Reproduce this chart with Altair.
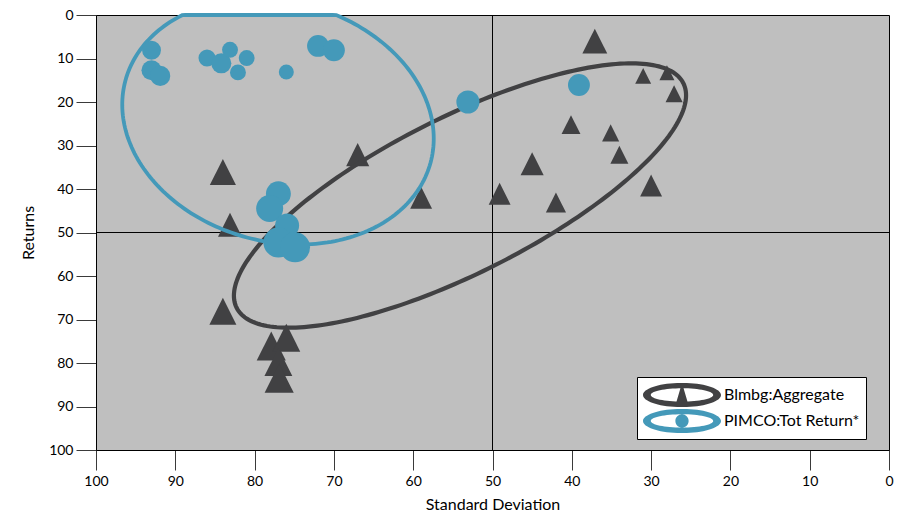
import altair as alt
import numpy as np
import pandas as pd

SERIES = ["Blmbg:Aggregate", "PIMCO:Tot Return*"]
COLORS = ["#414143", "#4499b9"]

# Blmbg:Aggregate (triangles)
agg_sd = [37.1, 31.0, 28.0, 27.1, 40.1, 35.1, 34.0, 30.0, 45.0, 49.1,
          42.0, 59.0, 67.0, 84.0, 83.1, 84.0, 77.9, 76.0, 77.0, 76.9]
agg_ret = [6.0, 14.0, 13.3, 18.1, 25.2, 27.1, 32.1, 39.2, 34.2, 41.1,
           43.1, 42.0, 32.1, 36.1, 48.2, 68.1, 76.1, 74.2, 79.8, 83.5]
agg_wt = [8.3, 5.3, 5.0, 5.7, 6.3, 5.7, 6.0, 7.3, 7.7, 7.3,
          6.7, 7.3, 7.7, 8.7, 8.0, 9.0, 9.7, 9.3, 9.3, 9.7]

# PIMCO:Tot Return* (circles)
tot_sd = [93.0, 93.0, 91.9, 86.0, 84.2, 83.1, 81.0, 82.1, 76.0, 72.0,
          70.0, 53.1, 39.1, 77.0, 78.1, 75.9, 77.0, 74.9]
tot_ret = [8.1, 12.7, 14.0, 9.9, 11.1, 8.0, 9.9, 13.2, 13.1, 7.1,
           8.1, 20.0, 16.1, 41.1, 44.5, 48.4, 52.3, 53.4]
tot_wt = [6.3, 6.7, 6.7, 5.7, 6.7, 5.3, 5.3, 5.3, 5.0, 7.3,
          7.3, 7.7, 7.3, 8.3, 9.0, 8.0, 10.0, 10.0]

# ellipse outlines: centre (sd, return), semi-axes in px, screen rotation in degrees
agg_ellipse = dict(cx=54.1, cy=41.5, a=250, b=78, ang=-26.7)
tot_ellipse = dict(cx=77.05, cy=24.5, a=158, b=120, ang=15)

W, H = 793, 435
FONT = "Lato"

def ellipse_df(p):
    t = np.linspace(0, 2 * np.pi, 241)
    th = np.radians(p["ang"])
    dx = p["a"] * np.cos(t) * np.cos(th) - p["b"] * np.sin(t) * np.sin(th)
    dy = p["a"] * np.cos(t) * np.sin(th) + p["b"] * np.sin(t) * np.cos(th)
    return pd.DataFrame({"sd": p["cx"] - dx / (W / 100.0),
                         "ret": p["cy"] + dy / (H / 100.0),
                         "i": np.arange(len(t))})

agg = pd.DataFrame({"sd": agg_sd, "ret": agg_ret, "wt": agg_wt, "series": SERIES[0]})
tot = pd.DataFrame({"sd": tot_sd, "ret": tot_ret, "wt": tot_wt, "series": SERIES[1]})
both = pd.concat([agg, tot], ignore_index=True)
rule = pd.DataFrame({"v": [50]})

xscale = alt.Scale(domain=[0, 100], reverse=True, nice=False, zero=False)
yscale = alt.Scale(domain=[0, 100], reverse=True, nice=False, zero=False, clamp=True)
common_axis = dict(tickSize=20, tickColor="#3a3a3a", tickWidth=1, domainColor="black",
                   domainWidth=1, grid=False, labelFont=FONT, labelFontSize=14,
                   labelColor="black", titleFont=FONT, titleFontSize=16,
                   titleFontWeight="normal", titleColor="black", labelFlush=False,
                   labelOverlap=False, values=list(range(0, 101, 10)))
xaxis = alt.Axis(labelPadding=4, titlePadding=8, **common_axis)
yaxis = alt.Axis(labelPadding=3, titlePadding=12, **common_axis)

def X(f):
    return alt.X(f"{f}:Q", scale=xscale, axis=xaxis, title="Standard Deviation")

def Y(f):
    return alt.Y(f"{f}:Q", scale=yscale, axis=yaxis, title="Returns")

size_scale = alt.Scale(type="pow", exponent=2, domain=[0, 10], range=[0, 900])

vrule = alt.Chart(rule).mark_rule(color="black", strokeWidth=1).encode(x=X("v"))
hrule = alt.Chart(rule).mark_rule(color="black", strokeWidth=1).encode(y=Y("v"))

tri = alt.Chart(agg).mark_point(shape="M0,-1L1,1L-1,1Z", filled=True, opacity=1,
                                color=COLORS[0], strokeWidth=0).encode(
    x=X("sd"), y=Y("ret"), size=alt.Size("wt:Q", scale=size_scale, legend=None))

circ = alt.Chart(tot).mark_point(shape="circle", filled=True, opacity=1,
                                 color=COLORS[1], strokeWidth=0).encode(
    x=X("sd"), y=Y("ret"), size=alt.Size("wt:Q", scale=size_scale, legend=None))

e_agg = alt.Chart(ellipse_df(agg_ellipse)).mark_line(color=COLORS[0], strokeWidth=4.2).encode(
    x=X("sd"), y=Y("ret"), order="i:Q")
e_tot = alt.Chart(ellipse_df(tot_ellipse)).mark_line(color=COLORS[1], strokeWidth=3.8).encode(
    x=X("sd"), y=Y("ret"), order="i:Q")

ring = ("M-1,0A1,0.31 0 1,0 1,0A1,0.31 0 1,0 -1,0Z"
        "M-0.8,0A0.8,0.17 0 1,1 0.8,0A0.8,0.17 0 1,1 -0.8,0Z")
path_agg = ring + "M0,-0.31L-0.17,0.27L0.17,0.27Z"
path_tot = ring + "M-0.17,0A0.17,0.17 0 1,0 0.17,0A0.17,0.17 0 1,0 -0.17,0Z"

leg = alt.Legend(orient="none", legendX=541, legendY=362, title=None,
                 fillColor="white", strokeColor="black", padding=6,
                 symbolSize=6084, symbolStrokeWidth=0, symbolOpacity=1,
                 labelFont=FONT, labelFontSize=16, labelColor="black",
                 labelOffset=3, clipHeight=24, rowPadding=2)

key = alt.Chart(both).mark_point(filled=True, opacity=0).encode(
    x=X("sd"), y=Y("ret"),
    shape=alt.Shape("series:N", scale=alt.Scale(domain=SERIES, range=[path_agg, path_tot]), legend=leg),
    color=alt.Color("series:N", scale=alt.Scale(domain=SERIES, range=COLORS), legend=leg))

chart = alt.layer(vrule, hrule, tri, e_agg, e_tot, circ, key).properties(
    width=W, height=H,
    autosize=alt.AutoSizeParams(type="none"),
    padding={"left": 88, "top": 7, "right": 8, "bottom": 70},
).configure_view(fill="#bfbfbf", stroke="black", strokeWidth=1)

chart.save("out.html", embed_options={"renderer": "svg", "actions": False})
